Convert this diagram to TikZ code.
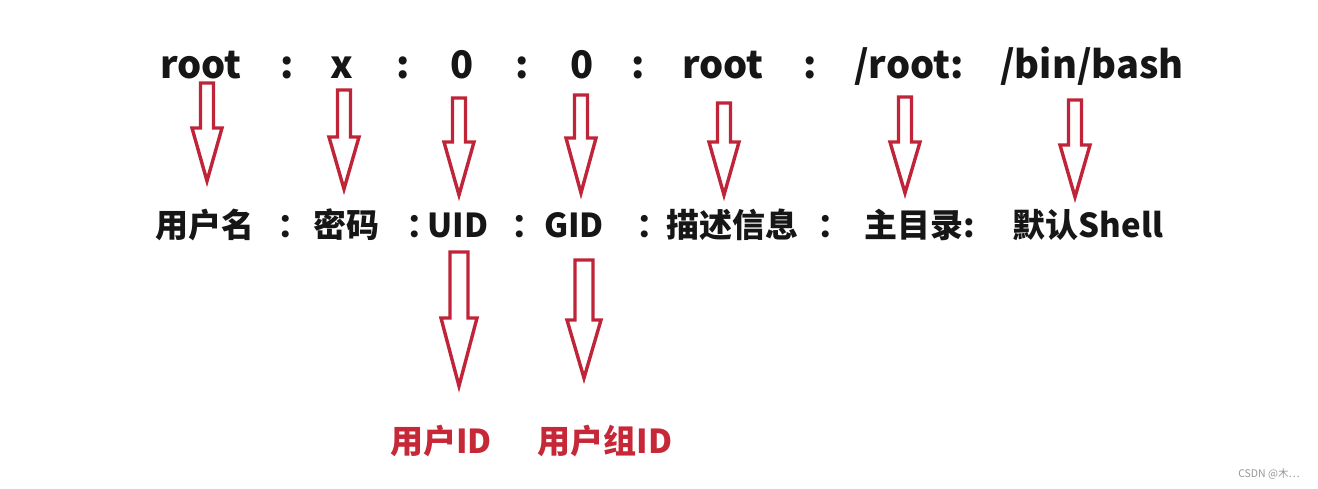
\documentclass[tikz,border=0pt]{standalone}
\usepackage{fontspec}
\newfontfamily\cjk{Noto Sans CJK SC}
\definecolor{arrred}{RGB}{192,36,56}
\definecolor{txtred}{RGB}{198,40,56}
\definecolor{ink}{RGB}{22,22,22}
\definecolor{wmgray}{RGB}{150,150,150}
\tikzset{
  toptxt/.style={font=\cjk\bfseries\fontsize{38}{44}\selectfont, text=ink, inner sep=0pt, anchor=base},
  midtxt/.style={font=\cjk\bfseries\fontsize{33}{40}\selectfont, text=ink, inner sep=0pt, anchor=base},
  bottxt/.style={font=\cjk\bfseries\fontsize{33}{40}\selectfont, text=txtred, inner sep=0pt, anchor=base},
  wmtxt/.style={font=\cjk\fontsize{10.5}{12}\selectfont, text=wmgray, inner sep=0pt, anchor=base},
  hollow/.style={draw=arrred, line width=3.4pt, fill=white, line join=miter},
}
% x, top, head start, tip, half shaft, half head
\newcommand\harrow[6]{%
  \draw[hollow] ({#1-#5},#2) -- ({#1+#5},#2) -- ({#1+#5},#3) -- ({#1+#6},#3)
    -- (#1,#4) -- ({#1-#6},#3) -- ({#1-#5},#3) -- cycle;}
\begin{document}
\begin{tikzpicture}[x=1pt,y=-1pt]
\useasboundingbox[fill=white] (0,0) rectangle (1318,489);
% top row
\node[toptxt] (t1)  at (201,79) {root};
\node[toptxt] (t2)  at (287,79) {:};
\node[toptxt] (t3)  at (342,79) {x};
\node[toptxt] (t4)  at (403,79) {:};
\node[toptxt] (t5)  at (462,79) {0};
\node[toptxt] (t6)  at (522,79) {:};
\node[toptxt] (t7)  at (582,79) {0};
\node[toptxt] (t8)  at (638,79) {:};
\node[toptxt] (t9)  at (723,79) {root};
\node[toptxt] (t10) at (810,79) {:};
\node[toptxt] (t11) at (909,79) {/root:};
\node[toptxt] (t12) at (1092,79) {/bin/bash};
% arrows top -> middle
\harrow{207}{83}{128}{181}{6.5}{15}
\harrow{344}{90}{137}{189}{6.5}{15}
\harrow{459}{98}{142}{195}{6.5}{15}
\harrow{581}{95}{138}{193}{6.5}{15}
\harrow{724}{103}{142}{195}{6.5}{15}
\harrow{905}{97}{142}{193}{6.5}{15}
\harrow{1075}{100}{145}{197}{6.5}{15}
% middle row
\node[midtxt] (m1)  at (205,238) {用户名};
\node[midtxt] (m2)  at (294,238) {：};
\node[midtxt] (m3)  at (346,238) {密码};
\node[midtxt] (m4)  at (423,238) {：};
\node[midtxt] (m5)  at (458,238) {UID};
\node[midtxt] (m6)  at (528,238) {：};
\node[midtxt] (m7)  at (574,238) {GID};
\node[midtxt] (m8)  at (653,238) {：};
\node[midtxt] (m9)  at (732,238) {描述信息};
\node[midtxt] (m10) at (834,238) {：};
\node[midtxt] (m11) at (920,238) {主目录:};
\node[midtxt] (m12) at (1088,238) {默认Shell};
% lower arrows
\harrow{459}{252}{318}{386}{9}{18}
\harrow{584}{260}{320}{378}{9}{17}
% bottom labels
\node[bottxt] (b1) at (441,453) {用户ID};
\node[bottxt] (b2) at (605,453) {用户组ID};
% watermark
\node[wmtxt] (wm) at (1269,477) {CSDN @木…};
\end{tikzpicture}
\end{document}
